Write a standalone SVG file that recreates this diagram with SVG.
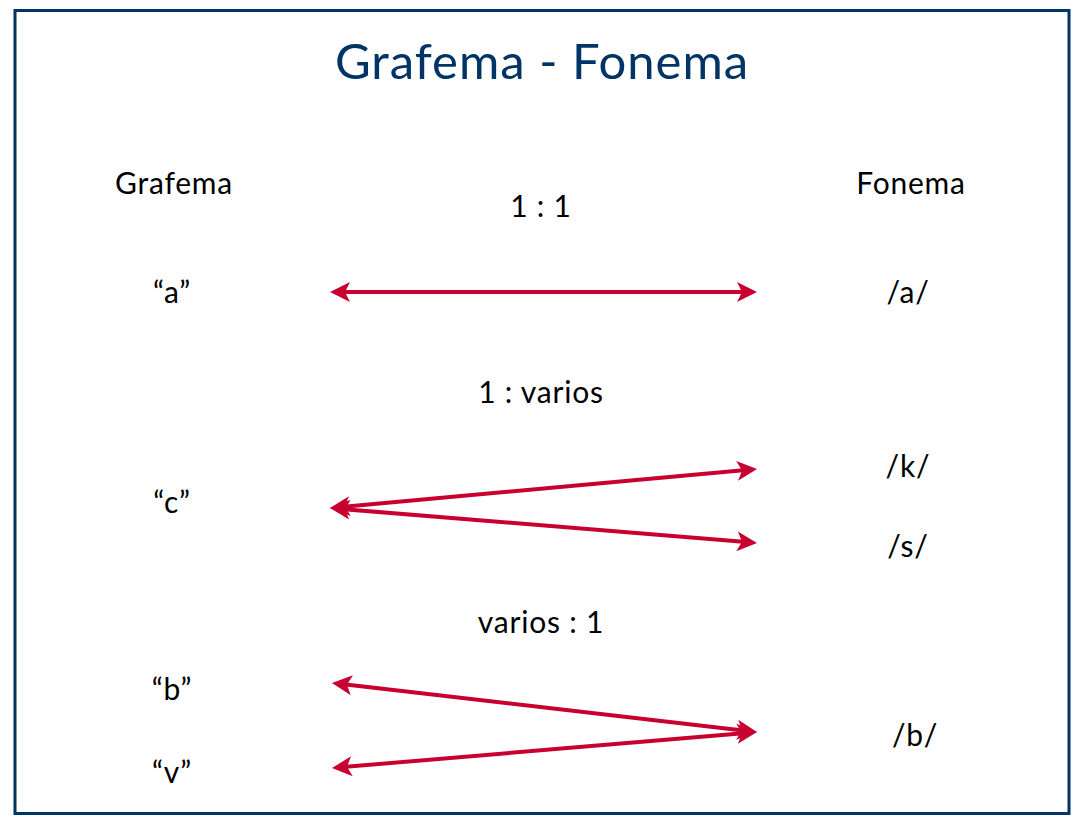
<svg xmlns="http://www.w3.org/2000/svg" width="1082" height="824" viewBox="0 0 1082 824">
  <style>
    .title { font-family: Lato, "Open Sans", "Liberation Sans", sans-serif; font-size: 49px; letter-spacing: 1px; fill: #003366; text-anchor: middle; }
    .lbl { font-family: Lato, "Open Sans", "Liberation Sans", sans-serif; font-size: 30px; letter-spacing: 0.8px; fill: #000; text-anchor: middle; }
    .arr { stroke: #C8002F; stroke-width: 4; fill: none; marker-start: url(#head); marker-end: url(#head); }
  </style>
  <defs>
    <marker id="head" markerUnits="userSpaceOnUse" markerWidth="20" markerHeight="20" viewBox="0 0 20 20" refX="6" refY="10" orient="auto-start-reverse">
      <path d="M0,0 L20,10 L0,20 L5,10 Z" fill="#C8002F"/>
    </marker>
  </defs>

  <rect x="0" y="0" width="1082" height="824" fill="#fff"/>
  <rect x="15" y="10.5" width="1054" height="803" fill="#fff" stroke="#003366" stroke-width="3"/>

  <text class="title" x="542" y="79">Grafema - Fonema</text>

  <g id="col-grafema"><text class="lbl" x="174" y="194">Grafema</text></g>
  <g id="col-fonema"><text class="lbl" x="911" y="194">Fonema</text></g>

  <g id="rel-1-1"><text class="lbl" x="541" y="217">1 : 1</text></g>
  <g id="rel-1-varios"><text class="lbl" x="541" y="403">1 : varios</text></g>
  <g id="rel-varios-1"><text class="lbl" x="541" y="633">varios : 1</text></g>

  <g id="g-a"><text class="lbl" x="172" y="303">“a”</text></g>
  <g id="g-c"><text class="lbl" x="172" y="513">“c”</text></g>
  <g id="g-b"><text class="lbl" x="172" y="700">“b”</text></g>
  <g id="g-v"><text class="lbl" x="172" y="783">“v”</text></g>

  <g id="f-a"><text class="lbl" x="908" y="303">/a/</text></g>
  <g id="f-k"><text class="lbl" x="908" y="477">/k/</text></g>
  <g id="f-s"><text class="lbl" x="908" y="557">/s/</text></g>
  <g id="f-b"><text class="lbl" x="915" y="746">/b/</text></g>

  <g id="connectors">
    <line class="arr" x1="344" y1="292" x2="743" y2="292"/>
    <line class="arr" x1="343.9" y1="506.7" x2="743.1" y2="470.3"/>
    <line class="arr" x1="343.95" y1="509.14" x2="743.05" y2="541.86"/>
    <line class="arr" x1="345.9" y1="684.6" x2="743.1" y2="730.4"/>
    <line class="arr" x1="345.95" y1="766.8" x2="743.05" y2="733.2"/>
  </g>
</svg>
